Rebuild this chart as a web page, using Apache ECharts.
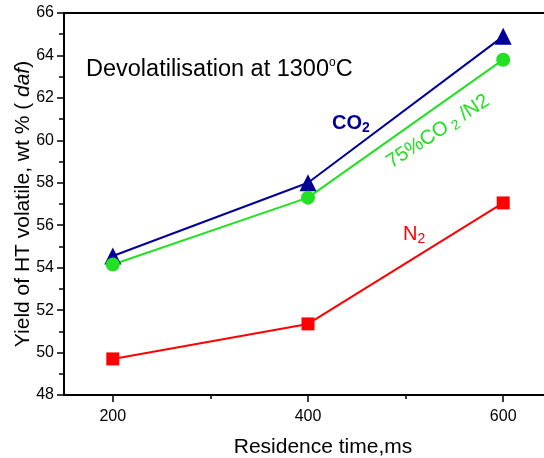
<!DOCTYPE html>
<html>
<head>
<meta charset="utf-8">
<script src="https://cdn.jsdelivr.net/npm/echarts@6/dist/echarts.min.js"></script>
<style>
  html, body { margin: 0; padding: 0; background: #fff; }
  #main { width: 544px; height: 458px; }
</style>
</head>
<body>
<div id="main"></div>
<script>
// residence time (ms)
var times = [200, 400, 600];
// yield of HT volatile, wt % (daf)
var co2 = [54.55, 58.0, 64.9];
var mix75 = [54.15, 57.3, 63.8];
var n2 = [49.7, 51.35, 57.05];

var xLabels = [200, 400, 600];
var xMinor = [300, 500];
var yMinor = [49, 51, 53, 55, 57, 59, 61, 63, 65];

function pairs(xs, ys) {
    var out = [];
    for (var i = 0; i < xs.length; i++) {
        out.push([xs[i], ys[i]]);
    }
    return out;
}

var FONT = 'Liberation Sans, Arial, sans-serif';
var NAVY = '#000099';
var GREEN = '#22e022';
var RED = '#ff0000';

var myChart = echarts.init(document.getElementById('main'));

var option = {
    backgroundColor: '#fff',
    animation: false,
    grid: { left: 64, top: 13, right: -8, bottom: 63, outerBoundsMode: 'none', containLabel: false },
    xAxis: [
        {
            type: 'value', min: 150, max: 650,
            name: 'Residence time,ms', nameLocation: 'middle', nameGap: 42, nameMoveOverlap: false,
            nameTextStyle: { fontFamily: FONT, fontSize: 21, color: '#000', padding: [0, 0, 0, 30] },
            axisLine: { lineStyle: { color: '#000', width: 2 } },
            axisTick: { customValues: xLabels, length: 7, lineStyle: { color: '#000', width: 1.5 } },
            axisLabel: { customValues: xLabels, margin: 14, fontFamily: FONT, fontSize: 16, color: '#000' },
            splitLine: { show: false }
        },
        {
            // minor ticks
            type: 'value', min: 150, max: 650, position: 'bottom',
            axisLine: { show: false },
            axisTick: { customValues: xMinor, length: 4, lineStyle: { color: '#000', width: 1.5 } },
            axisLabel: { show: false },
            splitLine: { show: false }
        },
        {
            // top frame line
            type: 'value', min: 150, max: 650, position: 'top',
            axisLine: { lineStyle: { color: '#000', width: 2 } },
            axisTick: { show: false },
            axisLabel: { show: false },
            splitLine: { show: false }
        }
    ],
    yAxis: [
        {
            type: 'value', min: 48, max: 66, interval: 2,
            name: 'Yield of HT volatile, wt % ( {i|daf})',
            nameLocation: 'middle', nameGap: 30, nameRotate: 90, nameMoveOverlap: false,
            nameTextStyle: {
                fontFamily: FONT, fontSize: 21, color: '#000',
                rich: { i: { fontFamily: FONT, fontSize: 21, fontStyle: 'italic', color: '#000' } }
            },
            axisLine: { lineStyle: { color: '#000', width: 2 } },
            axisTick: { length: 7, lineStyle: { color: '#000', width: 1.5 } },
            axisLabel: { margin: 10, fontFamily: FONT, fontSize: 16, color: '#000' },
            splitLine: { show: false }
        },
        {
            // minor ticks
            type: 'value', min: 48, max: 66, position: 'left',
            axisLine: { show: false },
            axisTick: { customValues: yMinor, length: 5, lineStyle: { color: '#000', width: 1.5 } },
            axisLabel: { show: false },
            splitLine: { show: false }
        }
    ],
    series: [
        {
            name: 'CO2', type: 'line', data: pairs(times, co2),
            symbol: 'triangle', symbolSize: 17,
            lineStyle: { color: NAVY, width: 2 }, itemStyle: { color: NAVY }
        },
        {
            name: '75%CO2/N2', type: 'line', data: pairs(times, mix75),
            symbol: 'circle', symbolSize: 14,
            lineStyle: { color: GREEN, width: 2 }, itemStyle: { color: GREEN }
        },
        {
            name: 'N2', type: 'line', data: pairs(times, n2),
            symbol: 'rect', symbolSize: 13,
            lineStyle: { color: RED, width: 2 }, itemStyle: { color: RED }
        }
    ],
    graphic: [
        {
            type: 'text', x: 86, y: 70,
            style: {
                text: '{a|Devolatilisation at 1300}{s|o}{a|C}',
                verticalAlign: 'middle',
                rich: {
                    a: { fontFamily: FONT, fontSize: 23.5, lineHeight: 26, fill: '#000' },
                    s: { fontFamily: FONT, fontSize: 12, lineHeight: 13, verticalAlign: 'top', fill: '#000' }
                }
            }
        },
        {
            type: 'text', x: 332, y: 123,
            style: {
                text: '{a|CO}{b|2}',
                verticalAlign: 'middle',
                rich: {
                    a: { fontFamily: FONT, fontSize: 20, fontWeight: 'bold', lineHeight: 24, fill: NAVY },
                    b: { fontFamily: FONT, fontSize: 14, fontWeight: 'bold', lineHeight: 12, verticalAlign: 'bottom', fill: NAVY }
                }
            }
        },
        {
            type: 'text', x: 403, y: 234,
            style: {
                text: '{a|N}{b|2}',
                verticalAlign: 'middle',
                rich: {
                    a: { fontFamily: FONT, fontSize: 20, lineHeight: 24, fill: RED },
                    b: { fontFamily: FONT, fontSize: 14, lineHeight: 12, verticalAlign: 'bottom', fill: RED }
                }
            }
        },
        {
            type: 'text', x: 395, y: 174, rotation: 0.58,
            style: {
                text: '{a|75%CO}{b| 2}{a| /N2}',
                verticalAlign: 'bottom',
                rich: {
                    a: { fontFamily: FONT, fontSize: 20, lineHeight: 24, fill: GREEN },
                    b: { fontFamily: FONT, fontSize: 14, lineHeight: 12, verticalAlign: 'bottom', fill: GREEN }
                }
            }
        }
    ]
};

myChart.setOption(option);
</script>
</body>
</html>
